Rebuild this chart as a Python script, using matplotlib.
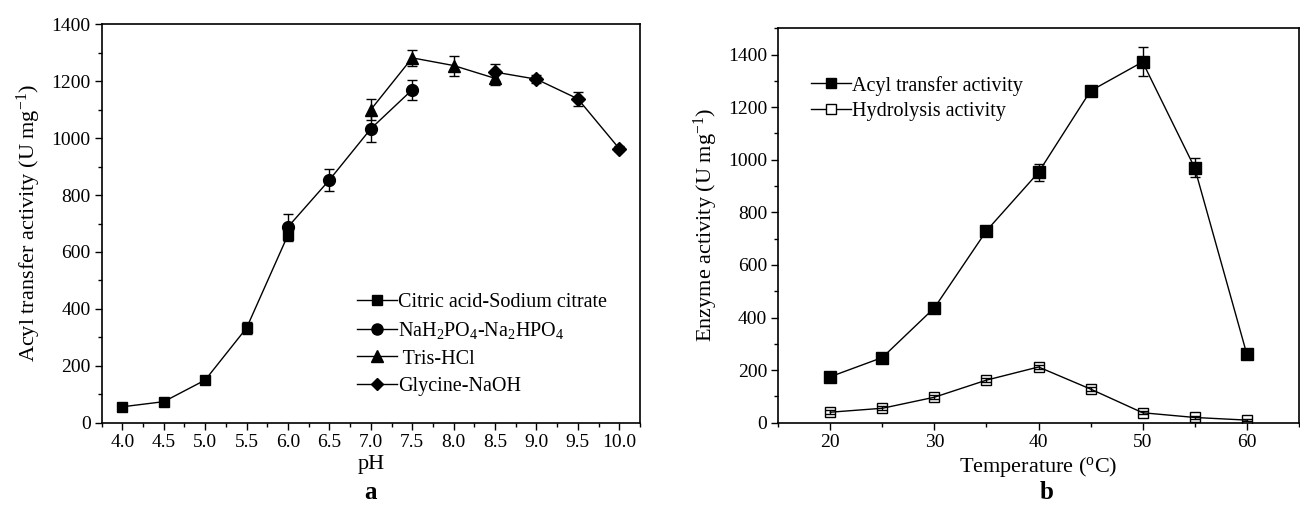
import matplotlib
matplotlib.use("Agg")
import matplotlib.pyplot as plt
from matplotlib.ticker import MultipleLocator
from matplotlib.lines import Line2D

plt.rcParams['font.family'] = ['Liberation Serif', 'DejaVu Serif']
plt.rcParams['mathtext.fontset'] = 'custom'
plt.rcParams['mathtext.rm'] = 'Liberation Serif'
plt.rcParams['mathtext.it'] = 'Liberation Serif:italic'
plt.rcParams['mathtext.bf'] = 'Liberation Serif:bold'

# ---- Panel a data (pH) ----
ph_citric = [4.0, 4.5, 5.0, 5.5, 6.0]
act_citric = [56, 74, 150, 333, 660]
err_citric = [5, 5, 10, 22, 20]

ph_phos = [6.0, 6.5, 7.0, 7.5]
act_phos = [688, 853, 1033, 1170]
err_phos = [45, 38, 48, 35]

ph_tris = [7.0, 7.5, 8.0, 8.5]
act_tris = [1100, 1282, 1255, 1210]
err_tris = [38, 28, 35, 22]

ph_gly = [8.5, 9.0, 9.5, 10.0]
act_gly = [1232, 1207, 1138, 963]
err_gly = [30, 15, 25, 8]

ph_ticks = [4.0, 4.5, 5.0, 5.5, 6.0, 6.5, 7.0, 7.5, 8.0, 8.5, 9.0, 9.5, 10.0]
labels_a = ['Citric acid-Sodium citrate', 'NaH$_2$PO$_4$-Na$_2$HPO$_4$', ' Tris-HCl', 'Glycine-NaOH']

# ---- Panel b data (temperature) ----
temps = [20, 25, 30, 35, 40, 45, 50, 55, 60]
acyl = [175, 248, 437, 730, 952, 1262, 1372, 970, 263]
acyl_err = [8, 10, 10, 10, 33, 10, 55, 37, 10]
hydro = [40, 55, 97, 162, 212, 128, 38, 20, 10]
hydro_err = [8, 8, 8, 8, 8, 8, 6, 6, 5]
labels_b = ['Acyl transfer activity', 'Hydrolysis activity']

fig = plt.figure(figsize=(13.0, 5.09), dpi=100)
ax1 = fig.add_axes([0.0782, 0.1695, 0.4141, 0.7828])
ax2 = fig.add_axes([0.5987, 0.1695, 0.4003, 0.7749])

TICK_FS = 14
LAB_FS = 16
LEG_FS = 14.5
kw = dict(color='black', lw=1.0, capsize=3.5, elinewidth=1.0, capthick=1.0)

series_a = [
    (ph_citric, act_citric, err_citric, 's', 7.5),
    (ph_phos, act_phos, err_phos, 'o', 8.5),
    (ph_tris, act_tris, err_tris, '^', 8.5),
    (ph_gly, act_gly, err_gly, 'D', 7),
]
handles_a = []
for (x, y, e, m, s) in series_a:
    ax1.errorbar(x, y, yerr=e, marker=m, markersize=s, **kw)
    handles_a.append(Line2D([], [], color='black', lw=1.0, marker=m, markersize=s - 0.5))

ax1.set_xlim(3.75, 10.25)
ax1.set_ylim(0, 1400)
ax1.set_xticks(ph_ticks)
ax1.set_xticklabels([f"{v:.1f}" for v in ph_ticks])
ax1.xaxis.set_minor_locator(MultipleLocator(0.25))
ax1.yaxis.set_major_locator(MultipleLocator(200))
ax1.yaxis.set_minor_locator(MultipleLocator(100))
ax1.set_xlabel('pH', fontsize=LAB_FS, labelpad=3)
ax1.set_ylabel('Acyl transfer activity (U mg$^{-1}$)', fontsize=LAB_FS, labelpad=6)
ax1.legend(handles_a, labels_a, loc='upper left', bbox_to_anchor=(0.474, 0.325),
           frameon=False, fontsize=LEG_FS, handlelength=2.0, handletextpad=0.05,
           labelspacing=0.4, borderpad=0.0, borderaxespad=0.0)

ax2.errorbar(temps, acyl, yerr=acyl_err, marker='s', markersize=8, **kw)
ax2.errorbar(temps, hydro, yerr=hydro_err, marker='s', mfc='none', mec='black',
             markersize=7, **kw)
handles_b = [Line2D([], [], color='black', lw=1.0, marker='s', markersize=7.5),
             Line2D([], [], color='black', lw=1.0, marker='s', markersize=7,
                    mfc='white', mec='black')]

ax2.set_xlim(15, 65)
ax2.set_ylim(0, 1500)
ax2.set_xticks([20, 30, 40, 50, 60])
ax2.xaxis.set_minor_locator(MultipleLocator(5))
ax2.set_yticks([0, 200, 400, 600, 800, 1000, 1200, 1400])
ax2.yaxis.set_minor_locator(MultipleLocator(100))
ax2.set_xlabel('Temperature ($^{\\rm o}$C)', fontsize=LAB_FS, labelpad=3)
ax2.set_ylabel('Enzyme activity (U mg$^{-1}$)', fontsize=LAB_FS, labelpad=6)
ax2.legend(handles_b, labels_b, loc='upper left', bbox_to_anchor=(0.063, 0.88),
           frameon=False, fontsize=LEG_FS, handlelength=2.0, handletextpad=0.05,
           labelspacing=0.3, borderpad=0.0, borderaxespad=0.0)

for ax in (ax1, ax2):
    ax.tick_params(axis='both', which='major', direction='out', length=5, width=1,
                   labelsize=TICK_FS, top=False, right=False, pad=3)
    ax.tick_params(axis='both', which='minor', direction='out', length=3, width=1,
                   top=False, right=False)
    for s in ax.spines.values():
        s.set_linewidth(1.2)

fig.text((0.0782 + 0.0782 + 0.4141) / 2, 0.032, 'a', fontsize=18, fontweight='bold',
         ha='center', va='center')
fig.text(0.805, 0.032, 'b', fontsize=18, fontweight='bold', ha='center', va='center')

fig.savefig('out.png', dpi=100)
